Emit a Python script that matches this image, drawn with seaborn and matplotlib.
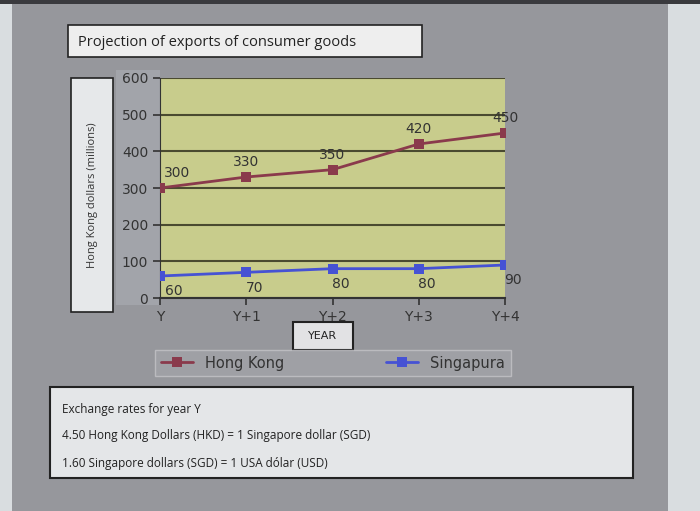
import numpy as np
import pandas as pd
import matplotlib
matplotlib.use("Agg")
import matplotlib.pyplot as plt
from matplotlib.patches import Rectangle
import seaborn as sns

# dados
anos = ["Y", "Y+1", "Y+2", "Y+3", "Y+4"]
hong_kong = [300, 330, 350, 420, 450]
singapura = [60, 70, 80, 80, 90]
paises = ["Hong Kong", "Singapura"]
yticks = [0, 100, 200, 300, 400, 500, 600]
cores = {"Hong Kong": "#8a3a4c", "Singapura": "#4652d4"}

df = pd.DataFrame({
    "pos": list(range(len(anos))) * 2,
    "valor": hong_kong + singapura,
    "pais": [paises[0]] * len(anos) + [paises[1]] * len(anos),
})

sns.set_style("white")
plt.rcParams["font.family"] = ["DejaVu Sans"]

W, H = 700, 511
fig = plt.figure(figsize=(7, 5.11), dpi=100)
fig.patch.set_facecolor("#96979c")


def caixa(x0, y0, x1, y1, face, edge="#222222", lw=1.2):
    # caixa em pixels (origem no topo), desenhada atras de tudo
    fig.patches.append(Rectangle((x0 / W, 1 - y1 / H), (x1 - x0) / W, (y1 - y0) / H,
                                 transform=fig.transFigure, facecolor=face,
                                 edgecolor=edge, linewidth=lw, zorder=-1))


# faixas claras nas bordas da foto
caixa(0, 0, 12, 511, "#d9dde0", edge="none")
caixa(668, 0, 700, 511, "#d9dde0", edge="none")
caixa(0, 0, 700, 4, "#3a3a3e", edge="none")

# faixa cinza atras dos ticks
caixa(116, 70, 160, 305, "#a2a4aa", edge="none")

# caixa do titulo
caixa(68, 25, 422, 57, "#eeeeee")
fig.text(78 / W, 1 - 42 / H, "Projection of exports of consumer goods",
         fontsize=10.5, family="Open Sans", color="#222222", va="center")

# caixa do rotulo do eixo y
caixa(71, 78, 113, 312, "#e6e8ea")
fig.text(92 / W, 1 - 195 / H, "Hong Kong dollars (millions)", rotation=90,
         fontsize=8, family="Open Sans", color="#333333", ha="center", va="center")

ax = fig.add_axes([160 / W, 1 - 298 / H, 345 / W, 220 / H])
ax.set_facecolor("#c8cc8c")

sns.lineplot(data=df, x="pos", y="valor", hue="pais", palette=cores, marker="s",
             markersize=7, markeredgewidth=0, linewidth=2, ax=ax, zorder=3)

ax.set_xlim(0, len(anos) - 1)
ax.set_ylim(0, 600)
ax.set_yticks(yticks)
ax.set_xticks(range(len(anos)))
ax.set_xticklabels(anos)
ax.set_xlabel("")
ax.set_ylabel("")
ax.grid(axis="y", color="#4a4a30", linewidth=1.5)
ax.set_axisbelow(True)
for lado in ["top", "right"]:
    ax.spines[lado].set_visible(False)
ax.spines["left"].set_color("#333333")
ax.spines["bottom"].set_color("#333333")
ax.spines["bottom"].set_linewidth(1.5)
ax.tick_params(axis="both", colors="#333333", labelsize=10, length=5,
               direction="out", left=True, bottom=True, width=1.2)

# rotulos dos dados
for i, v in enumerate(hong_kong):
    ax.annotate(str(v), (i, v), xytext=(12 if i == 0 else 0, 8),
                textcoords="offset points", ha="center", fontsize=10, color="#333333")
for i, v in enumerate(singapura):
    ax.annotate(str(v), (i, v), xytext=(10 if i == 0 else 6, -14),
                textcoords="offset points", ha="center", fontsize=10, color="#333333")

# caixa YEAR
caixa(293, 322, 353, 350, "#e2e2e4", lw=1.5)
fig.text(323 / W, 1 - 336 / H, "YEAR", fontsize=8, color="#222222",
         ha="center", va="center")

# legenda
handles, labels = ax.get_legend_handles_labels()
ax.get_legend().remove()
leg = fig.legend(handles, labels, loc="center", bbox_to_anchor=(333 / W, 1 - 363 / H),
                 ncol=2, columnspacing=7, frameon=True, fontsize=10.5,
                 facecolor="#a2a3a8", edgecolor="#c4c4c8", fancybox=False,
                 handlelength=2.2, borderpad=0.4)
for t in leg.get_texts():
    t.set_color("#333333")

# caixa das taxas de cambio
caixa(50, 387, 633, 478, "#e4e6e8", lw=1.5)
linhas = ["Exchange rates for year Y",
          "4.50 Hong Kong Dollars (HKD) = 1 Singapore dollar (SGD)",
          "1.60 Singapore dollars (SGD) = 1 USA dólar (USD)"]
for k, txt in enumerate(linhas):
    fig.text(62 / W, 1 - (409 + 27 * k) / H, txt, fontsize=8.5, family="Open Sans",
             color="#222222", va="center")

plt.savefig("out.png", dpi=100, facecolor=fig.get_facecolor())
